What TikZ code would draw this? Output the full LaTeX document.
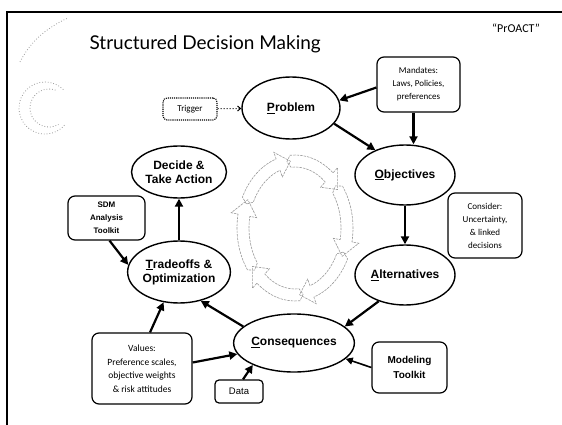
\documentclass[tikz,border=0pt]{standalone}
\usepackage{fontspec}
\setmainfont{Carlito}
\newfontfamily\titlefont{Lato}
\newfontfamily\headfont{Liberation Sans}
\usetikzlibrary{shapes.geometric,arrows.meta,calc}

% one curved band arrow of the central cycle symbol
\newcommand\cyclearrow[1]{%
  \pgfmathsetmacro\ea{#1-46}%
  \pgfmathsetmacro\eb{#1-60}%
  \draw[ringline]
    (#1+4:52pt and 67pt)
    -- (#1:58pt and 73pt)
    arc[start angle=#1, end angle=\ea, x radius=58pt, y radius=73pt]
    -- (\ea:65pt and 80pt)
    -- (\eb:52pt and 67pt)
    -- (\ea:39pt and 54pt)
    -- (\ea:46pt and 61pt)
    arc[start angle=\ea, end angle=#1, x radius=46pt, y radius=61pt]
    -- cycle;}

\begin{document}
\begin{tikzpicture}[x=1pt,y=1pt,
  stage/.style={ellipse, draw, line width=1.4pt, inner sep=0pt, align=center,
    font=\headfont\bfseries\fontsize{12}{14}\selectfont},
  infobox/.style={draw, line width=1.2pt, rounded corners=7pt, align=center,
    inner sep=2pt, font=\fontsize{9}{13}\selectfont},
  toolbox/.style={infobox, font=\headfont\bfseries\fontsize{8}{13}\selectfont},
  arr/.style={line width=2.2pt, -{Triangle[length=8pt,width=8pt]}},
  thinarr/.style={line width=1.6pt, -{Triangle[length=7pt,width=7pt]}},
  dotarr/.style={line width=1pt, dotted, -{Straight Barb[length=3pt,width=5pt]}},
  ringline/.style={draw=gray!80, line width=0.6pt, dash pattern=on 2.5pt off 1pt},
  deco/.style={draw=gray!80, line width=0.8pt, dotted}]

\useasboundingbox (0,0) rectangle (562,-425);

% slide frame
\draw[line width=1.8pt] (7,-425) -- (7,-12) -- (562,-12);

% faint corner ornament
\draw[deco] (20,-62) .. controls (30,-42) and (46,-28) .. (68,-18);
\draw[deco] (45,-108) ++(45:26) arc[start angle=45, end angle=320, radius=26];
\draw[deco] (49,-108) ++(70:19) arc[start angle=70, end angle=300, radius=19];

% headings
\node[anchor=base west, font=\titlefont\fontsize{19}{22}\selectfont]
  (title) at (86,-50) {Structured Decision Making};
\node[font=\fontsize{12}{14}\selectfont] (proact) at (516,-28) {``PrOACT''};

% stages of the cycle
\node[stage, minimum width=98, minimum height=62] (prob) at (291,-108) {\underline{P}roblem};
\node[stage, minimum width=100, minimum height=60] (obj) at (405,-175) {\underline{O}bjectives};
\node[stage, minimum width=100, minimum height=60] (alt) at (405,-275) {\underline{A}lternatives};
\node[stage, minimum width=98, minimum height=58] (cons) at (294,-343) {\underline{C}onsequences};
\node[stage, minimum width=94, minimum height=62] (trade) at (179,-272) {\underline{T}radeoffs \&\\Optimization};
\node[stage, minimum width=92, minimum height=52] (decide) at (179,-172) {Decide \&\\Take Action};

% side boxes
\node[infobox, line width=1.1pt, densely dotted, minimum width=54, minimum height=22, rounded corners=4pt] (trig) at (190,-109) {Trigger};
\node[infobox, minimum width=83, minimum height=55] (mand) at (418.5,-84.5) {Mandates:\\Laws, Policies,\\preferences};
\node[infobox, minimum width=74, minimum height=65] (cons2) at (485,-225.5) {Consider:\\Uncertainty,\\\& linked\\decisions};
\node[toolbox, minimum width=77, minimum height=44] (sdm) at (106.5,-218) {SDM\\Analysis\\Toolkit};
\node[infobox, minimum width=100, minimum height=71, font=\fontsize{9.5}{13.5}\selectfont] (val) at (142,-368.5) {Values:\\Preference scales,\\objective weights\\\& risk attitudes};
\node[infobox, minimum width=48, minimum height=23, rounded corners=4pt, font=\headfont\fontsize{9.5}{11}\selectfont] (data) at (239,-391.5) {Data};
\node[toolbox, minimum width=75, minimum height=51, font=\headfont\bfseries\fontsize{10}{15}\selectfont] (model) at (409.5,-367.5) {Modeling\\Toolkit};

% main cycle connectors
\draw[arr] (prob.-20) -- (obj.140);
\draw[arr] (obj.south) -- (alt.north);
\draw[arr] (alt.-135) -- (cons.18);
\draw[arr] (cons.162) -- (trade.-53);
\draw[arr] (trade.north) -- (decide.south);

% inputs
\draw[dotarr] (trig) -- (prob);
\draw[arr] ([yshift=-3pt]mand.west) -- (prob.9);
\draw[arr] ([xshift=-5pt]mand.south) -- ([xshift=-5pt]mand.south |- obj.north);
\draw[arr] ([xshift=3pt]sdm.south) -- (trade.172);
\draw[arr] ([xshift=8pt]val.north) -- (trade.-117);
\draw[arr] ([yshift=6pt]val.east) -- (cons.191);
\draw[arr] ([xshift=4pt]data.north) -- (cons.208);
\draw[thinarr] (model.west) -- (cons.-17);

% central cycle symbol
\begin{scope}[shift={(295,-228)}]
  \foreach \a in {95,35,-25,-85,-145,-205} {\cyclearrow{\a}}
\end{scope}

\end{tikzpicture}
\end{document}
